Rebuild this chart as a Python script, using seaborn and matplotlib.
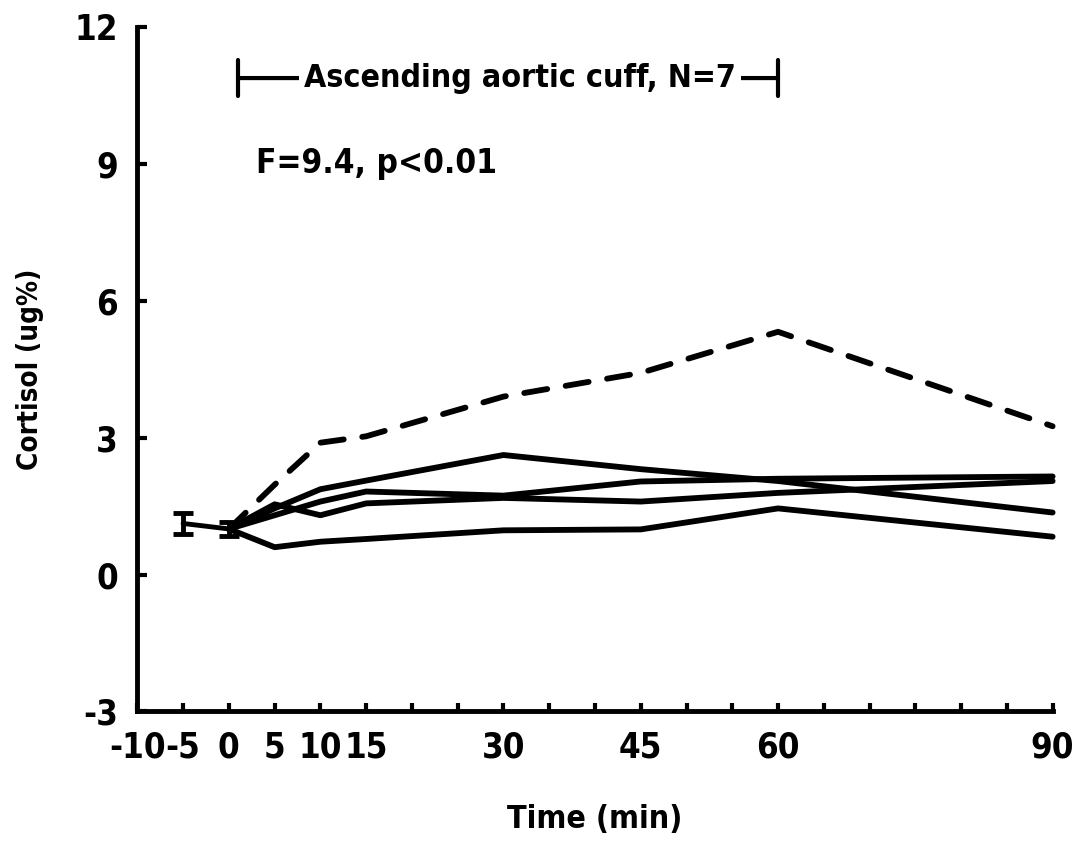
import numpy as np
import matplotlib

matplotlib.use("Agg")
import matplotlib.pyplot as plt
import seaborn as sns
import pandas as pd

# time points (min) of the cuff period
time = [0, 5, 10, 15, 30, 45, 60, 90]

# individual cortisol curves (ug%)
subj_a = [1.00, 1.45, 1.87, 2.06, 2.62, 2.31, 2.05, 1.36]
subj_b = [1.00, 1.30, 1.60, 1.82, 1.73, 2.04, 2.10, 2.15]
subj_c = [1.00, 1.54, 1.30, 1.56, 1.68, 1.60, 1.79, 2.05]
subj_d = [1.00, 0.60, 0.72, 0.78, 0.97, 0.99, 1.45, 0.83]
subj_e = [1.00, 1.97, 2.89, 3.03, 3.90, 4.42, 5.32, 3.25]  # dashed one

# baseline mean +- error before the cuff
pre_time = [-5, 0]
pre_mean = [1.12, 1.00]
pre_err = [0.23, 0.15]

xticks = [-10, -5, 0, 5, 10, 15, 30, 45, 60, 90]
yticks = [-3, 0, 3, 6, 9, 12]

cuff_start, cuff_end = 1, 60
title_text = "Ascending aortic cuff, N=7"
stat_text = "F=9.4, p<0.01"

rows = []
for name, vals, kind in [
    ("a", subj_a, "solid"),
    ("b", subj_b, "solid"),
    ("c", subj_c, "solid"),
    ("d", subj_d, "solid"),
    ("e", subj_e, "dashed"),
]:
    for t, v in zip(time, vals):
        rows.append((name, t, v, kind))
df = pd.DataFrame(rows, columns=["subject", "time", "cortisol", "kind"])

sns.set_style("ticks")
plt.rcParams["font.family"] = ["DejaVu Sans"]
plt.rcParams["font.stretch"] = "condensed"
plt.rcParams["font.weight"] = "bold"
plt.rcParams["axes.unicode_minus"] = False
for key in ["text.color", "axes.labelcolor", "xtick.color", "ytick.color"]:
    plt.rcParams[key] = "black"

fig, ax = plt.subplots(figsize=(10.73, 8.42), dpi=100)
fig.subplots_adjust(left=0.128, right=0.981, bottom=0.155, top=0.968)

sns.lineplot(
    data=df,
    x="time",
    y="cortisol",
    units="subject",
    estimator=None,
    style="kind",
    dashes={"solid": "", "dashed": (4, 3.2)},
    color="black",
    linewidth=4.2,
    legend=False,
    ax=ax,
)
for line in ax.lines:
    line.set_solid_joinstyle("round")
    line.set_solid_capstyle("round")
    line.set_dash_capstyle("round")
    line.set_clip_on(False)

ax.errorbar(
    pre_time,
    pre_mean,
    yerr=pre_err,
    color="black",
    lw=3.5,
    capsize=7,
    capthick=3.5,
    clip_on=False,
)

ax.set_xlim(-10, 90)
ax.set_ylim(-3, 12)
ax.set_xticks(xticks)
ax.set_xticks(np.arange(-5, 91, 5), minor=True)
ax.set_yticks(yticks)
ax.tick_params(axis="both", which="both", direction="in", width=3, color="black")
ax.tick_params(axis="x", which="both", length=6, pad=14, labelsize=25)
ax.tick_params(axis="y", length=7, pad=14, labelsize=25)

sns.despine(ax=ax)
for side in ["left", "bottom"]:
    ax.spines[side].set_linewidth(3.5)
    ax.spines[side].set_color("black")

ax.set_xlabel("Time (min)", fontsize=23, fontweight="bold", labelpad=28)
ax.set_ylabel("Cortisol (ug%)", fontsize=20, fontweight="bold", labelpad=22)

# cuff bracket with label
ax.annotate(
    "",
    xy=(cuff_start, 10.88),
    xytext=(cuff_end, 10.88),
    arrowprops=dict(arrowstyle="|-|,widthA=0.65,widthB=0.65", lw=3, color="black",
                    shrinkA=0, shrinkB=0, mutation_scale=20),
)
ax.text(
    31.8, 10.88, title_text, ha="center", va="center", fontsize=23,
    bbox=dict(facecolor="white", edgecolor="none", pad=4),
)
ax.text(3, 9.0, stat_text, ha="left", va="center", fontsize=24)

fig.savefig("out.png", dpi=100)
